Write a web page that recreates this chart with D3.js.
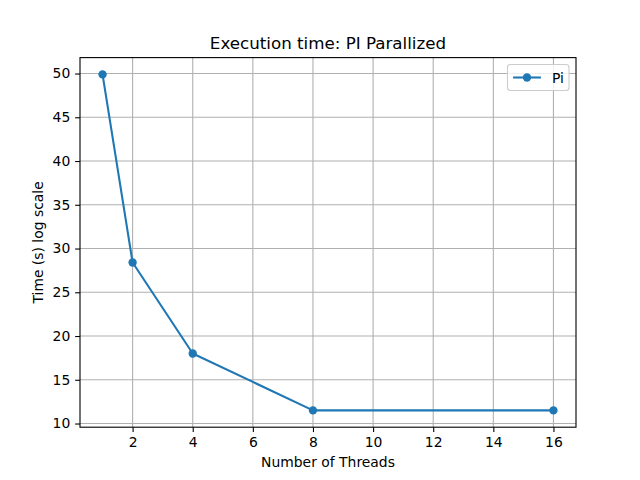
<!DOCTYPE html>
<html><head><meta charset="utf-8">
<script src="https://cdn.jsdelivr.net/npm/d3@7"></script>
<style>body{margin:0;background:#fff}svg{display:block;font-family:"DejaVu Sans",sans-serif}</style>
</head><body>
<svg id="c" width="640" height="480"></svg>
<script>
const threads = [1, 2, 4, 8, 16];
const times = [49.9, 28.4, 18.0, 11.5, 11.5];
const xTicks = [2, 4, 6, 8, 10, 12, 14, 16];
const yTicks = [10, 15, 20, 25, 30, 35, 40, 45, 50];
const seriesName = "Pi";

const svg = d3.select("#c");
const L = 80, R = 576, T = 57.6, B = 427.2;
const color = "#1f77b4";
const xmin = d3.min(threads), xmax = d3.max(threads);
const xpad = (xmax - xmin) * 0.05;
const ymin = d3.min(times), ymax = d3.max(times);
const ypad = (ymax - ymin) * 0.05;
const x = d3.scaleLinear().domain([xmin - xpad, xmax + xpad]).range([L, R]);
const y = d3.scaleLinear().domain([ymin - ypad, ymax + ypad]).range([B, T]);

// grid
const g = svg.append("g");
g.selectAll("line.gx").data(xTicks).join("line")
  .attr("x1", d => x(d)).attr("x2", d => x(d)).attr("y1", T).attr("y2", B)
  .attr("stroke", "#b0b0b0").attr("stroke-width", 1.1);
g.selectAll("line.gy").data(yTicks).join("line")
  .attr("y1", d => y(d)).attr("y2", d => y(d)).attr("x1", L).attr("x2", R)
  .attr("stroke", "#b0b0b0").attr("stroke-width", 1.1);

// axes
const xAxis = d3.axisBottom(x).tickValues(xTicks).tickSize(4.86).tickPadding(4.86).tickFormat(d3.format("d"));
const yAxis = d3.axisLeft(y).tickValues(yTicks).tickSize(4.86).tickPadding(4.86).tickFormat(d3.format("d"));
const gx = svg.append("g").attr("transform", `translate(0,${B})`).call(xAxis);
const gy = svg.append("g").attr("transform", `translate(${L},0)`).call(yAxis);
[gx, gy].forEach(a => {
  a.select(".domain").remove();
  a.selectAll(".tick line").attr("stroke", "#000").attr("stroke-width", 1.1);
  a.selectAll(".tick text").attr("fill", "#000").style("font-size", "13.9px").style("font-family", "DejaVu Sans");
});

// line and markers
svg.append("path").datum(threads.map((t, i) => [t, times[i]]))
  .attr("d", d3.line().x(d => x(d[0])).y(d => y(d[1])))
  .attr("fill", "none").attr("stroke", color).attr("stroke-width", 2.08).attr("stroke-linejoin", "round");
svg.selectAll("circle.m").data(threads.map((t, i) => [t, times[i]])).join("circle")
  .attr("cx", d => x(d[0])).attr("cy", d => y(d[1])).attr("r", 4.17).attr("fill", color);

// spines
svg.append("rect").attr("x", L).attr("y", T).attr("width", R - L).attr("height", B - T)
  .attr("fill", "none").attr("stroke", "#000").attr("stroke-width", 1.1);

// title and labels
svg.append("text").attr("x", (L + R) / 2).attr("y", 49).attr("text-anchor", "middle")
  .style("font-size", "16.7px").text("Execution time: PI Parallized");
svg.append("text").attr("x", (L + R) / 2).attr("y", 467).attr("text-anchor", "middle")
  .style("font-size", "13.9px").text("Number of Threads");
svg.append("text").attr("transform", `translate(43,${(T + B) / 2}) rotate(-90)`).attr("text-anchor", "middle")
  .style("font-size", "13.9px").text("Time (s) log scale");

// legend
const lg = svg.append("g");
const bx = 507.5, by = 64.5, bw = 61.5, bh = 26;
lg.append("rect").attr("x", bx).attr("y", by).attr("width", bw).attr("height", bh).attr("rx", 3)
  .attr("fill", "#fff").attr("fill-opacity", 0.8).attr("stroke", "#cccccc").attr("stroke-width", 1.1);
const ly = by + bh / 2;
lg.append("line").attr("x1", bx + 5.6).attr("x2", bx + 33.4).attr("y1", ly).attr("y2", ly)
  .attr("stroke", color).attr("stroke-width", 2.08);
lg.append("circle").attr("cx", bx + 19.5).attr("cy", ly).attr("r", 4.17).attr("fill", color);
lg.append("text").attr("x", bx + 44.5).attr("y", ly + 5).style("font-size", "13.9px").text(seriesName);
</script>
</body></html>
